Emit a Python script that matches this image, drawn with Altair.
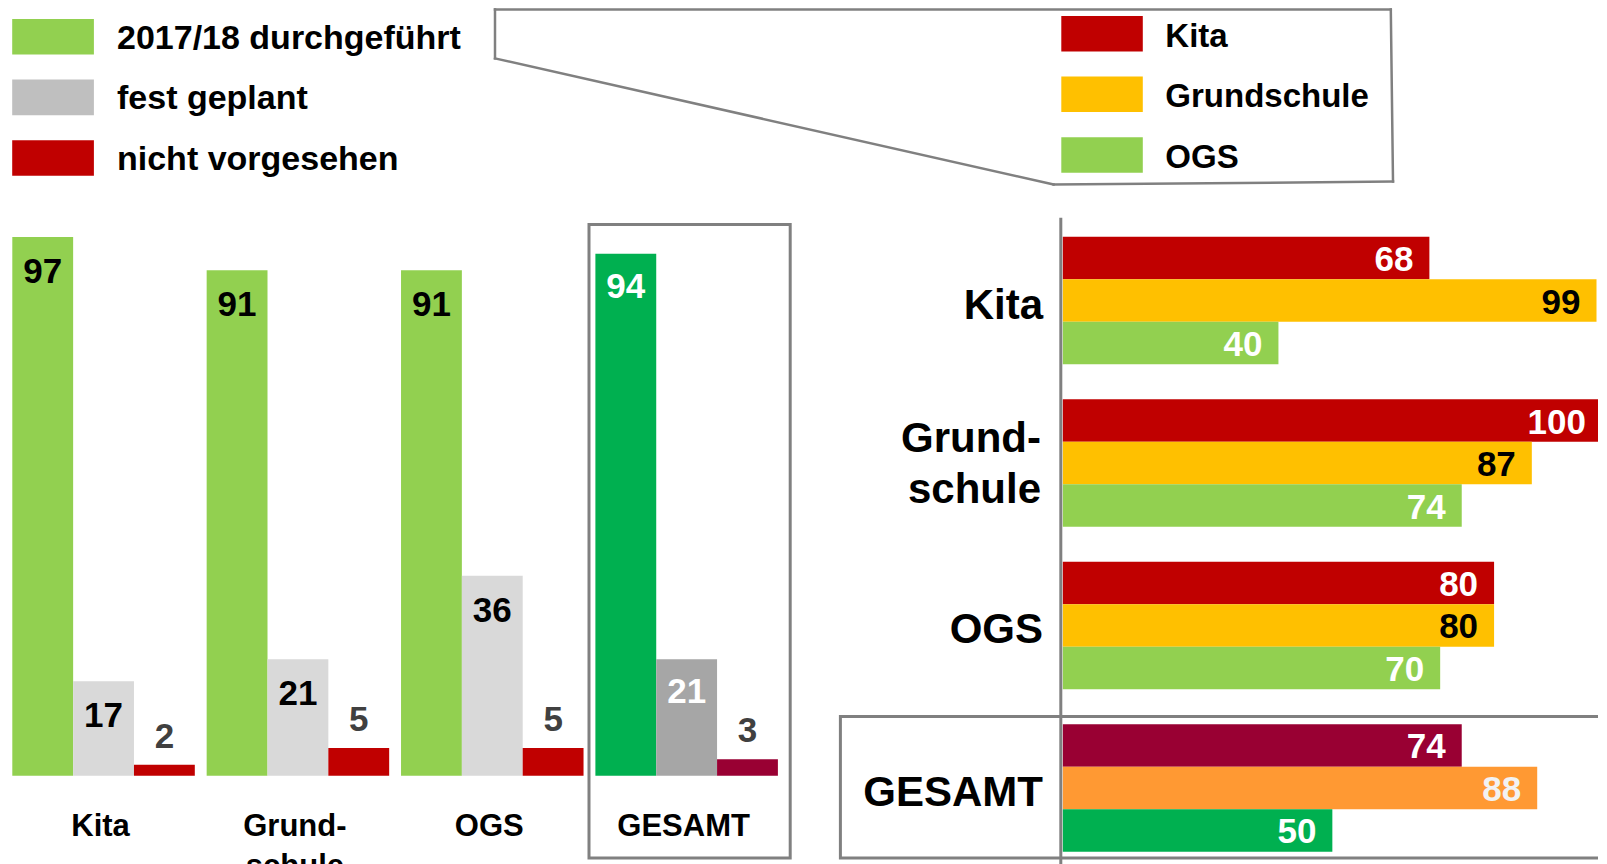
import altair as alt
import pandas as pd

FONT = "Liberation Sans"

# ---------------- data ----------------
categories = ["Kita", "Grund-\nschule", "OGS", "GESAMT"]
TOTAL = "GESAMT"

# left panel (vertical bars)
left_series = ["2017/18 durchgeführt", "fest geplant", "nicht vorgesehen"]
left_done = [97, 91, 91, 94]
left_planned = [17, 21, 36, 21]
left_not = [2, 5, 5, 3]

# right panel (horizontal bars)
right_series = ["Kita", "Grundschule", "OGS"]
right_kita = [68, 100, 80, 74]
right_grund = [99, 87, 80, 88]
right_ogs = [40, 74, 70, 50]

# ---------------- styles ----------------
left_colors = ["#92D050", "#D9D9D9", "#C00000"]
left_colors_total = ["#00B050", "#A6A6A6", "#990033"]
left_legend_colors = ["#92D050", "#BFBFBF", "#C00000"]
right_colors = ["#C00000", "#FFC000", "#92D050"]
right_colors_total = ["#990033", "#FF9933", "#00B050"]
GREY_LINE = "#808080"


def key(series, cat):
    return series + (" (gesamt)" if cat == TOTAL else "")


left_rows = []
for s, vals in zip(left_series, [left_done, left_planned, left_not]):
    for c, v in zip(categories, vals):
        left_rows.append({"cat": c, "series": s, "value": v, "key": key(s, c)})
left_df = pd.DataFrame(left_rows)

right_rows = []
for s, vals in zip(right_series, [right_kita, right_grund, right_ogs]):
    for c, v in zip(categories, vals):
        right_rows.append({"cat": c, "series": s, "value": v, "key": key(s, c)})
right_df = pd.DataFrame(right_rows)

cat_df = pd.DataFrame({"cat": categories})
left_keys = left_series + [key(s, TOTAL) for s in left_series]
right_keys = right_series + [key(s, TOTAL) for s in right_series]
MULTI = "indexof(datum.cat, '\\n') >= 0"
SINGLE = "indexof(datum.cat, '\\n') < 0"

# ---------------- left panel ----------------
xL = alt.X("cat:N", scale=alt.Scale(domain=categories, range=[4.3, 769.9],
                                     paddingInner=0.061, paddingOuter=0), axis=None)
xoL = alt.XOffset("series:N", scale=alt.Scale(domain=left_series, paddingInner=0, paddingOuter=0))
yL = alt.Y("value:Q", scale=alt.Scale(domain=[0, 100], range=[767.8, 212.3]), axis=None)

baseL = alt.Chart(left_df)
left_bars = baseL.mark_rect().encode(
    x=xL, xOffset=xoL, y=yL, y2=alt.datum(0),
    color=alt.Color("key:N", scale=alt.Scale(domain=left_keys,
                                             range=left_colors + left_colors_total), legend=None),
)
lab = dict(font=FONT, fontSize=35, fontWeight="bold", baseline="middle", align="center")
left_lab_black = baseL.transform_filter(
    alt.FieldOneOfPredicate(field="key", oneOf=left_series[:2])
).mark_text(dy=35, color="#000000", **lab).encode(x=xL, xOffset=xoL, y=yL, text="value:Q")
left_lab_white = baseL.transform_filter(
    alt.FieldOneOfPredicate(field="key", oneOf=[key(s, TOTAL) for s in left_series[:2]])
).mark_text(dy=33, color="#FFFFFF", **lab).encode(x=xL, xOffset=xoL, y=yL, text="value:Q")
left_lab_grey = baseL.transform_filter(
    alt.FieldEqualPredicate(field="series", equal=left_series[2])
).mark_text(dy=-28, color="#404040", **lab).encode(x=xL, xOffset=xoL, y=yL, text="value:Q")
left_cat = alt.Chart(cat_df).mark_text(
    font=FONT, fontSize=31, fontWeight="bold", baseline="alphabetic", align="center",
    lineBreak="\n", lineHeight=40, dx=-3, color="#000000"
).encode(x=xL, y=alt.value(828), text="cat:N")

left_group = alt.layer(left_bars, left_lab_black, left_lab_white, left_lab_grey, left_cat)

# ---------------- right panel ----------------
xR = alt.X("value:Q", scale=alt.Scale(domain=[0, 100], range=[1054.8, 1593.9]), axis=None)
yR = alt.Y("cat:N", scale=alt.Scale(domain=categories, range=[228.8, 843.7],
                                     paddingInner=0.215, paddingOuter=0), axis=None)
yoR = alt.YOffset("series:N", scale=alt.Scale(domain=right_series, paddingInner=0, paddingOuter=0))

baseR = alt.Chart(right_df)
right_bars = baseR.mark_rect().encode(
    x=xR, x2=alt.datum(0), y=yR, yOffset=yoR,
    color=alt.Color("key:N", scale=alt.Scale(domain=right_keys,
                                             range=right_colors + right_colors_total), legend=None),
)
labR = dict(font=FONT, fontSize=35, fontWeight="bold", baseline="middle", align="right", dx=-16, dy=2)
right_lab_black = baseR.transform_filter(
    alt.FieldEqualPredicate(field="key", equal="Grundschule")
).mark_text(color="#000000", **labR).encode(x=xR, y=yR, yOffset=yoR, text="value:Q")
right_lab_light = baseR.transform_filter(
    alt.FieldEqualPredicate(field="key", equal=key("Grundschule", TOTAL))
).mark_text(color="#F2F2F2", **labR).encode(x=xR, y=yR, yOffset=yoR, text="value:Q")
right_lab_white = baseR.transform_filter(
    alt.FieldOneOfPredicate(field="key", oneOf=[k for k in right_keys if not k.startswith("Grundschule")])
).mark_text(color="#FFFFFF", **labR).encode(x=xR, y=yR, yOffset=yoR, text="value:Q")
catR = dict(font=FONT, fontSize=42, fontWeight="bold", baseline="middle", align="right",
            lineBreak="\n", lineHeight=51, color="#000000")
right_cat_single = alt.Chart(cat_df).transform_filter(SINGLE).mark_text(dy=5, **catR).encode(
    y=yR, x=alt.value(1035), text="cat:N")
right_cat_multi = alt.Chart(cat_df).transform_filter(MULTI).mark_text(dy=-24, **catR).encode(
    y=yR, x=alt.value(1033), text="cat:N")

right_group = alt.layer(right_bars, right_lab_black, right_lab_light, right_lab_white,
                        right_cat_single, right_cat_multi)

# ---------------- legends ----------------
legL_df = pd.DataFrame({"item": left_series})
yLegL = alt.Y("item:N", scale=alt.Scale(domain=left_series, range=[11, 167.7],
                                         paddingInner=0.413, paddingOuter=0), axis=None)
legL = alt.layer(
    alt.Chart(legL_df).mark_rect().encode(
        y=yLegL, x=alt.value(4.2), x2=alt.value(85.9),
        color=alt.Color("item:N", scale=alt.Scale(domain=left_series, range=left_legend_colors), legend=None)),
    alt.Chart(legL_df).mark_text(font=FONT, fontSize=34, fontWeight="bold", align="left",
                                 baseline="middle", dy=2, color="#000000").encode(
        y=yLegL, x=alt.value(109), text="item:N"),
)

legR_df = pd.DataFrame({"item": right_series})
yLegR = alt.Y("item:N", scale=alt.Scale(domain=right_series, range=[8, 164.7],
                                         paddingInner=0.415, paddingOuter=0), axis=None)
legR = alt.layer(
    alt.Chart(legR_df).mark_rect().encode(
        y=yLegR, x=alt.value(1053.3), x2=alt.value(1134.8),
        color=alt.Color("item:N", scale=alt.Scale(domain=right_series, range=right_colors), legend=None)),
    alt.Chart(legR_df).mark_text(font=FONT, fontSize=33, fontWeight="bold", align="left",
                                 baseline="middle", dy=3, color="#000000").encode(
        y=yLegR, x=alt.value(1157.3), text="item:N"),
)

# ---------------- decorations ----------------
dummy = pd.DataFrame({"d": [0]})


def rule(x1, y1, x2, y2, w=2.5):
    return alt.Chart(dummy).mark_rule(color=GREY_LINE, strokeWidth=w, strokeCap="square").encode(
        x=alt.value(x1), y=alt.value(y1), x2=alt.value(x2), y2=alt.value(y2))


def box(x1, y1, x2, y2, w=3):
    return alt.Chart(dummy).mark_rect(fill=None, filled=False, stroke=GREY_LINE, strokeWidth=w).encode(
        x=alt.value(x1), y=alt.value(y1), x2=alt.value(x2), y2=alt.value(y2))


callout = [
    rule(487, 1.4, 1382.8, 1.4),
    rule(1382.8, 1.4, 1385, 173.6),
    rule(1385, 173.6, 1045.6, 176.5),
    rule(1045.6, 176.5, 487, 50.4),
    rule(487, 50.4, 487, 1.4),
]
left_box = box(581, 216.5, 782.2, 850)
right_box = box(832.4, 708.4, 1640, 850)
axis_line = rule(1052.8, 211.3, 1052.8, 870, w=3)

chart = alt.layer(
    left_box, right_box,
    left_group, right_group, legL, legR,
    axis_line, *callout,
).resolve_scale(
    x="independent", y="independent", color="independent",
    xOffset="independent", yOffset="independent",
).properties(
    width=1590, height=856, padding=0, autosize=alt.AutoSizeParams(type="none"),
).configure_view(stroke=None)

chart.save("out.html", embed_options={"renderer": "svg", "actions": False})
